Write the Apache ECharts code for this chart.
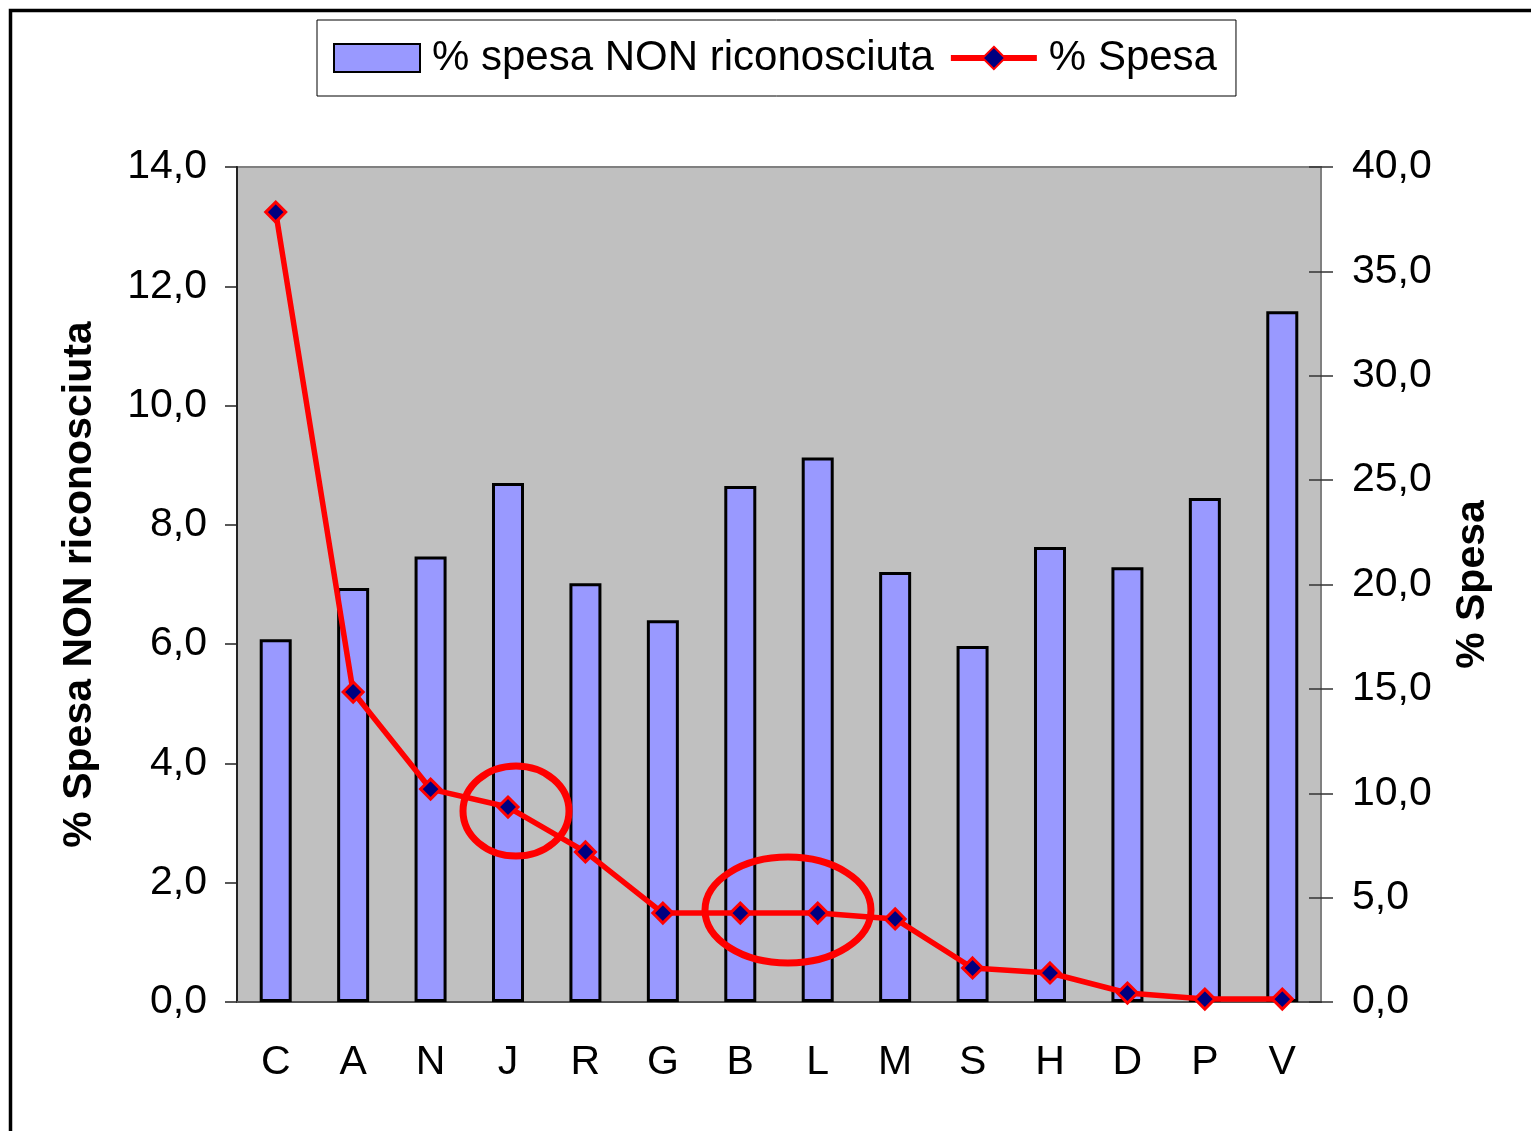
<!DOCTYPE html>
<html>
<head>
<meta charset="utf-8">
<script src="https://cdn.jsdelivr.net/npm/echarts@6/dist/echarts.min.js"></script>
<style>
  html, body { margin: 0; padding: 0; background: #fff; }
  #chart { width: 1531px; height: 1131px; }
</style>
</head>
<body>
<div id="chart"></div>
<script>
// dati
const categories = ['C', 'A', 'N', 'J', 'R', 'G', 'B', 'L', 'M', 'S', 'H', 'D', 'P', 'V'];
const spesaNonRiconosciuta = [6.08, 6.94, 7.47, 8.70, 7.02, 6.40, 8.65, 9.13, 7.21, 5.97, 7.63, 7.29, 8.45, 11.58];
const spesa = [37.84, 14.85, 10.2, 9.34, 7.19, 4.26, 4.26, 4.26, 3.98, 1.63, 1.39, 0.43, 0.14, 0.14];
// categorie cerchiate in rosso
const cerchiati = [['J'], ['B', 'L']];

const FONT = '"Liberation Sans", Arial, sans-serif';
const fmt = v => v.toFixed(1).replace('.', ',');

const chart = echarts.init(document.getElementById('chart'));

chart.setOption({
  animation: false,
  backgroundColor: '#fff',
  textStyle: { fontFamily: FONT, color: '#000' },
  legend: {
    left: 317,
    top: 20,
    padding: [17, 19, 17, 16],
    itemGap: 14,
    itemWidth: 86,
    itemHeight: 28,
    borderColor: '#000',
    borderWidth: 1,
    textStyle: { fontSize: 42, color: '#000', fontFamily: FONT, padding: [0, 0, 0, 7] },
    data: [
      { name: '% spesa NON riconosciuta', icon: 'rect' },
      { name: '% Spesa', lineStyle: { width: 6 } }
    ]
  },
  grid: {
    left: 237,
    right: 210,
    top: 167,
    bottom: 129,
    show: true,
    backgroundColor: '#C0C0C0',
    borderColor: '#808080',
    borderWidth: 2
  },
  xAxis: [
    {
      type: 'category',
      data: categories,
      axisLine: { lineStyle: { color: '#555', width: 2 } },
      axisTick: { length: 12, lineStyle: { color: '#555', width: 1.5 } },
      axisLabel: { fontSize: 41, color: '#000', margin: 40, fontFamily: FONT }
    },
    {
      type: 'category',
      data: categories,
      position: 'bottom',
      axisLine: { show: false },
      axisTick: { inside: true, length: 12, lineStyle: { color: '#555', width: 1.5 } },
      axisLabel: { show: false }
    }
  ],
  yAxis: [
    {
      type: 'value',
      min: 0,
      max: 14,
      interval: 2,
      name: '% Spesa NON riconosciuta',
      nameLocation: 'middle',
      nameRotate: 90,
      nameGap: 137,
      nameTextStyle: { fontSize: 41, fontWeight: 'bold', color: '#000', fontFamily: FONT },
      axisLine: { show: true, lineStyle: { color: '#222', width: 2 } },
      axisTick: { show: true, length: 12, lineStyle: { color: '#222', width: 1.5 } },
      splitLine: { show: false },
      axisLabel: { fontSize: 41, color: '#000', margin: 30, formatter: fmt, fontFamily: FONT }
    },
    {
      type: 'value',
      min: 0,
      max: 40,
      interval: 5,
      position: 'right',
      name: '% Spesa',
      nameLocation: 'middle',
      nameRotate: 90,
      nameGap: 131,
      nameTextStyle: { fontSize: 41, fontWeight: 'bold', color: '#000', fontFamily: FONT },
      axisLine: { show: true, lineStyle: { color: '#808080', width: 2 } },
      axisTick: { show: true, length: 12, lineStyle: { color: '#333', width: 1.5 } },
      splitLine: { show: false },
      axisLabel: { fontSize: 41, color: '#000', margin: 31, formatter: fmt, fontFamily: FONT }
    },
    {
      type: 'value',
      min: 0,
      max: 40,
      interval: 5,
      position: 'right',
      axisLine: { show: false },
      axisTick: { show: true, inside: true, length: 12, lineStyle: { color: '#333', width: 1.5 } },
      splitLine: { show: false },
      axisLabel: { show: false }
    }
  ],
  series: [
    {
      name: '% spesa NON riconosciuta',
      type: 'bar',
      xAxisIndex: 0,
      yAxisIndex: 0,
      barWidth: 32,
      itemStyle: { color: '#9999FF', borderColor: '#000', borderWidth: 3 },
      data: spesaNonRiconosciuta
    },
    {
      name: '% Spesa',
      type: 'line',
      xAxisIndex: 0,
      yAxisIndex: 1,
      symbol: 'diamond',
      symbolSize: 20,
      lineStyle: { color: '#FF0000', width: 5.5 },
      itemStyle: { color: '#000080', borderColor: '#FF0000', borderWidth: 3 },
      data: spesa
    }
  ]
});

// ellissi rosse attorno ai punti evidenziati
const ellissi = cerchiati.map(gruppo => {
  const pts = gruppo.map(c => chart.convertToPixel({ xAxisIndex: 0, yAxisIndex: 1 }, [c, spesa[categories.indexOf(c)]]));
  const cx = pts.reduce((s, p) => s + p[0], 0) / pts.length;
  const cy = pts.reduce((s, p) => s + p[1], 0) / pts.length;
  const single = pts.length === 1;
  return {
    type: 'ellipse',
    shape: { cx: cx + (single ? 8 : 9), cy: cy + (single ? 4 : -3), rx: single ? 53 : 83, ry: single ? 45 : 53 },
    style: { fill: 'none', stroke: '#FF0000', lineWidth: 7 },
    z: 100
  };
});

chart.setOption({
  graphic: [
    {
      type: 'rect',
      shape: { x: 10.5, y: 10.5, width: 1600, height: 1200 },
      style: { fill: 'none', stroke: '#000', lineWidth: 3.5 },
      z: 100
    }
  ].concat(ellissi)
});
</script>
</body>
</html>
